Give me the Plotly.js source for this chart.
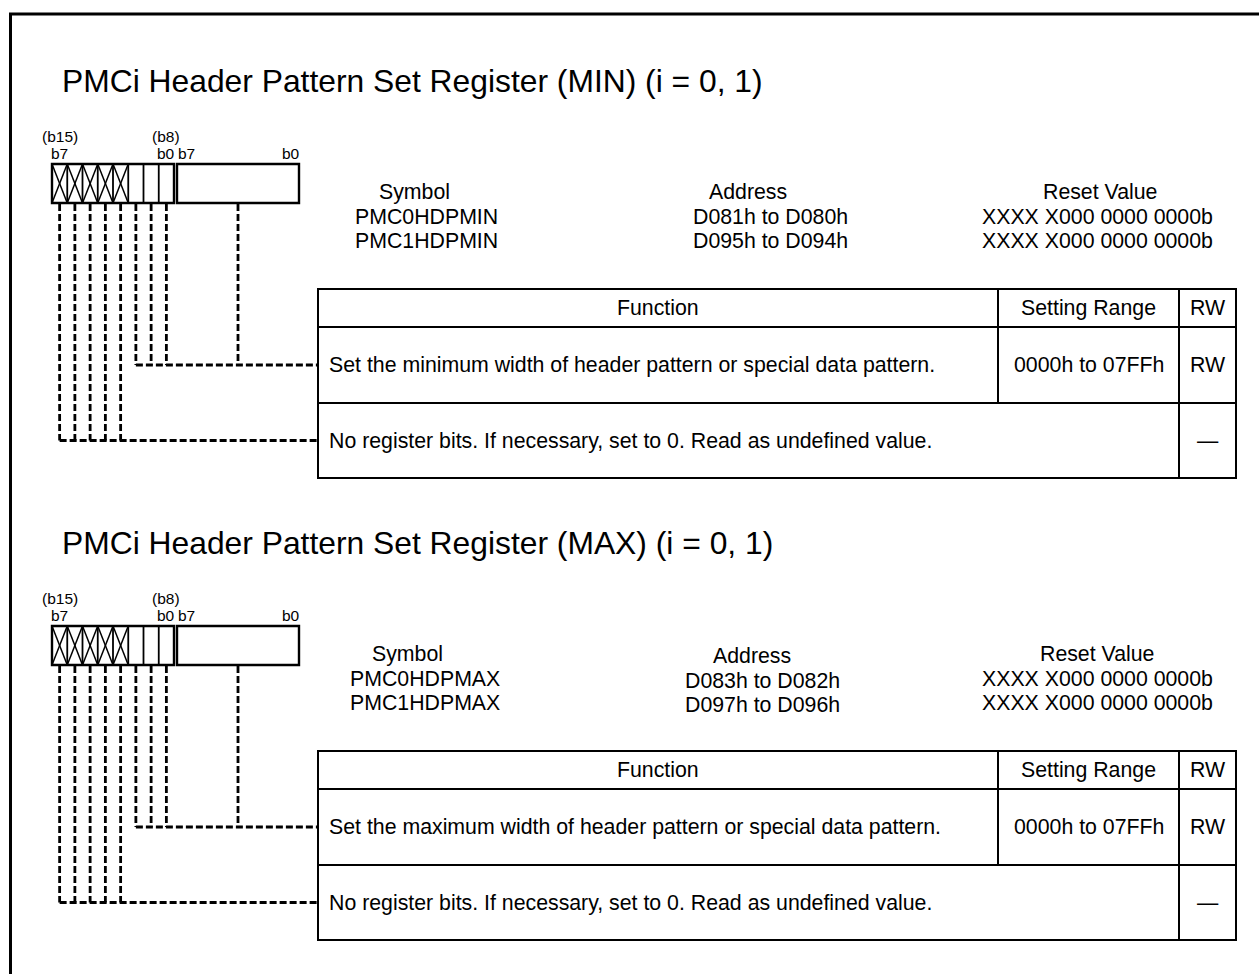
<!DOCTYPE html>
<html><head><meta charset="utf-8">
<script src="https://cdn.plot.ly/plotly-3.0.1.min.js"></script>
<style>html,body{margin:0;padding:0;background:#fff;overflow:hidden}#chart{width:1259px;height:974px}</style>
</head><body><div id="chart"></div>
<script>
// ---- content ----
const titles = [
  "PMCi Header Pattern Set Register (MIN) (i = 0, 1)",
  "PMCi Header Pattern Set Register (MAX) (i = 0, 1)"
];
const colHeaders = ["Symbol", "Address", "Reset Value"];
const symbols = [["PMC0HDPMIN", "PMC1HDPMIN"], ["PMC0HDPMAX", "PMC1HDPMAX"]];
const addresses = [["D081h to D080h", "D095h to D094h"], ["D083h to D082h", "D097h to D096h"]];
const resetValues = [["XXXX X000 0000 0000b", "XXXX X000 0000 0000b"], ["XXXX X000 0000 0000b", "XXXX X000 0000 0000b"]];
const tableHeaders = ["Function", "Setting Range", "RW"];
const functionTexts = [
  ["Set the minimum width of header pattern or special data pattern.", "No register bits. If necessary, set to 0. Read as undefined value."],
  ["Set the maximum width of header pattern or special data pattern.", "No register bits. If necessary, set to 0. Read as undefined value."]
];
const settingRanges = ["0000h to 07FFh", "0000h to 07FFh"];
const rwValues = [["RW", "\u2014"], ["RW", "\u2014"]];
const bitLabelsTop = ["(b15)", "(b8)"];
const bitLabelsBottom = ["b7", "b0", "b7", "b0"];
const highByteBits = 8;
const reservedBits = 5;

// ---- layout geometry (pixels) ----
const W = 1259, H = 974;
const FONT = "Liberation Sans, Arial, Helvetica, sans-serif";
const secOffsets = [0, 462];
const titleX = 62, titleY = 81, titleSize = 31.8;
const boxTop = 164, boxBot = 203, hiLeft = 52, hiRight = 174, loLeft = 177, loRight = 299;
const bitTopY = 136, bitBotY = 153, bitSize = 15.5;
const bodySize = 21.3;
const hdrY = 192, val1Y = 217, val2Y = 241;
const hdrX = [[414, 748, 1100], [407, 752, 1097]];
const hdrDY = [[0, 0, 0], [0, 2, 0]];
const valX = [[426, 770, 1097], [425, 762, 1097]];
const tL = 318, tR = 1236, tTop = 289, tH1 = 327, tR1 = 403, tBot = 478;
const cRange = 998, cRW = 1179, textLeft = 329;

const shapes = [], ann = [];
function line(x0, y0, x1, y1, w, dash) {
  shapes.push({type: 'line', xref: 'x', yref: 'y', x0, y0, x1, y1,
    line: {color: '#000', width: w, dash: dash || 'solid'}});
}
function rect(x0, y0, x1, y1, w) {
  shapes.push({type: 'rect', xref: 'x', yref: 'y', x0, y0, x1, y1,
    line: {color: '#000', width: w}, fillcolor: 'rgba(0,0,0,0)'});
}
function text(t, x, y, size, xa) {
  ann.push({text: t, x, y, xref: 'x', yref: 'y', xanchor: xa || 'center', yanchor: 'middle',
    showarrow: false, borderpad: 0, borderwidth: 0,
    font: {family: FONT, size: size, color: '#000'}});
}

// outer frame (extends beyond right/bottom edges)
rect(10.5, 14, W + 40, H + 40, 3);

secOffsets.forEach((dy, s) => {
  // title
  text(titles[s], titleX, titleY + dy, titleSize, 'left');

  // bit labels
  const cellW = (hiRight - hiLeft) / highByteBits;
  const cx = i => hiLeft + (i + 0.5) * cellW;
  text(bitLabelsTop[0], cx(0), bitTopY + dy, bitSize, 'center');
  text(bitLabelsTop[1], cx(highByteBits - 1), bitTopY + dy, bitSize, 'center');
  text(bitLabelsBottom[0], hiLeft - 1, bitBotY + dy, bitSize, 'left');
  text(bitLabelsBottom[1], hiRight + 0.5, bitBotY + dy, bitSize, 'right');
  text(bitLabelsBottom[2], loLeft + 1, bitBotY + dy, bitSize, 'left');
  text(bitLabelsBottom[3], loRight + 0.5, bitBotY + dy, bitSize, 'right');

  // register boxes
  for (let i = 1; i < highByteBits; i++) {
    const x = hiLeft + i * cellW;
    line(x, boxTop + dy, x, boxBot + dy, 1.8);
  }
  for (let i = 0; i < reservedBits; i++) {
    const x0 = hiLeft + i * cellW, x1 = x0 + cellW;
    line(x0, boxTop + dy, x1, boxBot + dy, 1.5);
    line(x0, boxBot + dy, x1, boxTop + dy, 1.5);
  }
  rect(hiLeft, boxTop + dy, hiRight, boxBot + dy, 2.4);
  rect(loLeft, boxTop + dy, loRight, boxBot + dy, 2.4);

  // dashed leader lines
  const r1Mid = (tH1 + tR1) / 2 + dy, r2Mid = (tR1 + tBot) / 2 + dy;
  const dash = '7px,3px';
  const lw = 2.8;
  for (let i = 0; i < highByteBits; i++) {
    line(cx(i), boxBot + dy + 1, cx(i), i < reservedBits ? r2Mid : r1Mid, lw, dash);
  }
  const loMid = (loLeft + loRight) / 2;
  line(loMid, boxBot + dy + 1, loMid, r1Mid, lw, dash);
  line(cx(reservedBits), r1Mid, tL, r1Mid, lw, dash);
  line(cx(0), r2Mid, tL, r2Mid, lw, dash);

  // symbol / address / reset value block
  colHeaders.forEach((h, c) => text(h, hdrX[s][c], hdrY + dy + hdrDY[s][c], bodySize));
  [symbols, addresses, resetValues].forEach((arr, c) => {
    text(arr[s][0], valX[s][c], val1Y + dy + hdrDY[s][c], bodySize);
    text(arr[s][1], valX[s][c], val2Y + dy + hdrDY[s][c], bodySize);
  });

  // table
  rect(tL, tTop + dy, tR, tBot + dy, 2);
  line(tL, tH1 + dy, tR, tH1 + dy, 2);
  line(tL, tR1 + dy, tR, tR1 + dy, 2);
  line(cRange, tTop + dy, cRange, tR1 + dy, 2);
  line(cRW, tTop + dy, cRW, tBot + dy, 2);
  const hMid = (tTop + tH1) / 2 + dy;
  text(tableHeaders[0], (tL + cRange) / 2, hMid, bodySize);
  text(tableHeaders[1], (cRange + cRW) / 2, hMid, bodySize);
  text(tableHeaders[2], (cRW + tR) / 2, hMid, bodySize);
  text(functionTexts[s][0], textLeft, r1Mid, bodySize, 'left');
  text(settingRanges[s], (cRange + cRW) / 2, r1Mid, bodySize);
  text(rwValues[s][0], (cRW + tR) / 2, r1Mid, bodySize);
  text(functionTexts[s][1], textLeft, r2Mid, bodySize, 'left');
  text(rwValues[s][1], (cRW + tR) / 2, r2Mid, bodySize);
});

const layout = {
  width: W, height: H,
  margin: {l: 0, r: 0, t: 0, b: 0, pad: 0},
  paper_bgcolor: '#fff', plot_bgcolor: '#fff',
  showlegend: false,
  xaxis: {range: [0, W], visible: false, fixedrange: true},
  yaxis: {range: [H, 0], visible: false, fixedrange: true},
  shapes: shapes,
  annotations: ann
};
Plotly.newPlot('chart', [], layout, {staticPlot: true, displayModeBar: false});
</script>
</body></html>
